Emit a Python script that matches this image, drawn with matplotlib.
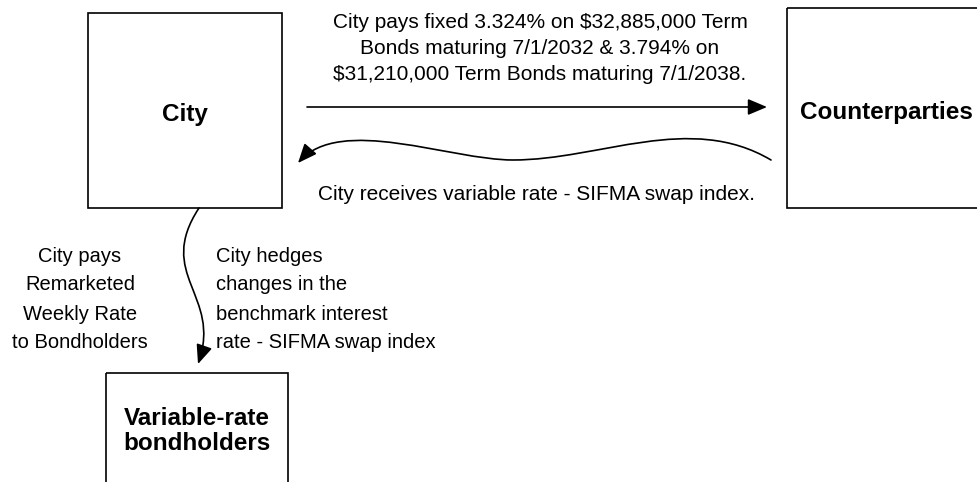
import matplotlib
matplotlib.use('Agg')
import matplotlib.pyplot as plt
from matplotlib.patches import Rectangle, FancyArrowPatch
from matplotlib.path import Path

plt.rcParams['font.family'] = ['Liberation Sans', 'DejaVu Sans']

# texts of the diagram
box_labels = ['City', 'Counterparties', 'Variable-rate\nbondholders']
pay_fixed = ['City pays fixed 3.324% on $32,885,000 Term',
             'Bonds maturing 7/1/2032 & 3.794% on',
             '$31,210,000 Term Bonds maturing 7/1/2038.']
receive_var = 'City receives variable rate - SIFMA swap index.'
pays_weekly = ['City pays', 'Remarketed', 'Weekly Rate', 'to Bondholders']
hedges = ['City hedges', 'changes in the', 'benchmark interest', 'rate - SIFMA swap index']

fig = plt.figure(figsize=(9.77, 4.82), dpi=100)
ax = fig.add_axes([0, 0, 1, 1])
ax.set_xlim(0, 977)
ax.set_ylim(482, 0)
ax.axis('off')

# boxes (x, y, w, h)
boxes = [(88, 13, 194, 195), (787, 8, 200, 200), (106, 373, 182, 120)]
centers = [(185, 115), (886, 113), (197, 431)]
for (x, y, w, h), (cx, cy), lab in zip(boxes, centers, box_labels):
    ax.add_patch(Rectangle((x, y), w, h, fill=False, lw=1.2, ec='black'))
    ax.text(cx, cy, lab, ha='center', va='center', fontsize=17.5,
            fontweight='bold', linespacing=1.1)

style = '-|>,head_length=0.9,head_width=0.38'

# straight arrow City -> Counterparties
ax.add_patch(FancyArrowPatch((307, 107), (767, 107), arrowstyle=style,
                             mutation_scale=13, lw=1.2, color='black',
                             shrinkA=0, shrinkB=0))

# wavy arrow Counterparties -> City
wave = Path([(771, 160), (690, 112), (600, 160), (513, 160),
             (450, 160), (340, 115), (298, 163)],
            [Path.MOVETO] + [Path.CURVE4] * 6)
ax.add_patch(FancyArrowPatch(path=wave, arrowstyle=style, mutation_scale=13,
                             lw=1.2, color='black'))

# wavy arrow City -> bondholders
down = Path([(199, 208), (155, 275), (222, 295), (198, 364)],
            [Path.MOVETO] + [Path.CURVE4] * 3)
ax.add_patch(FancyArrowPatch(path=down, arrowstyle=style, mutation_scale=13,
                             lw=1.2, color='black'))

for i, line in enumerate(pay_fixed):
    ax.text(540, 22 + 26.5 * i, line, ha='center', va='center', fontsize=15)
ax.text(537, 194, receive_var, ha='center', va='center', fontsize=15)

for i, line in enumerate(pays_weekly):
    ax.text(80, 256 + 29 * i, line, ha='center', va='center', fontsize=14.5)
for i, line in enumerate(hedges):
    ax.text(216, 256 + 29 * i, line, ha='left', va='center', fontsize=14.5)

fig.savefig('out.png', dpi=100)
